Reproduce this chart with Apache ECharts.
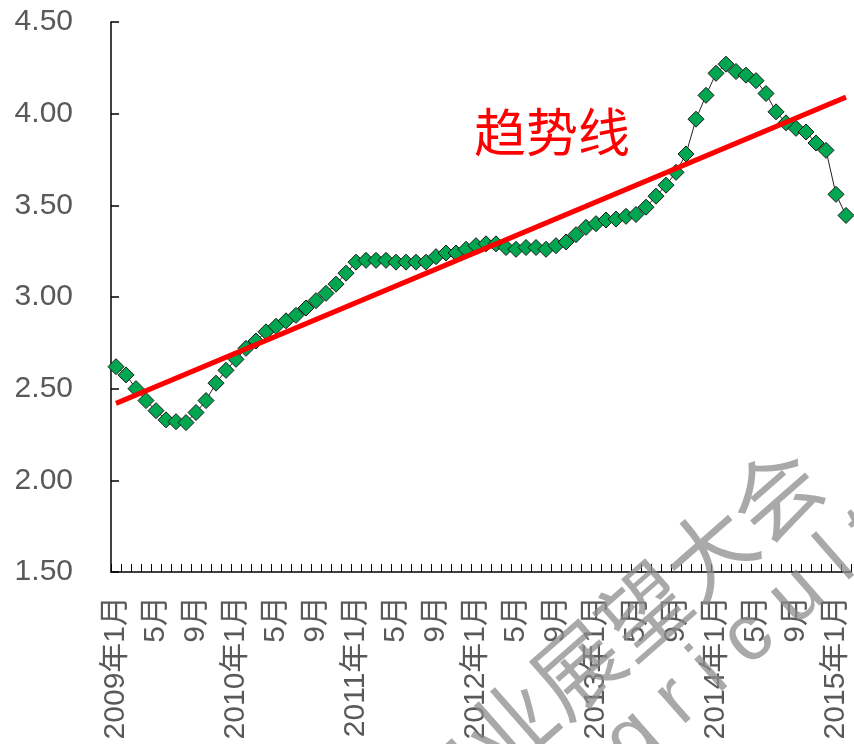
<!DOCTYPE html>
<html>
<head>
<meta charset="utf-8">
<script src="https://cdn.jsdelivr.net/npm/echarts@6/dist/echarts.min.js"></script>
<style>
  html, body { margin: 0; padding: 0; background: #fff; }
  #chart { width: 854px; height: 744px; }
</style>
</head>
<body>
<div id="chart"></div>
<script>
// 2009年1月 ~ 2015年2月，按月
const startYear = 2009
const monthCount = 74
const categories = []
for (let i = 0; i < monthCount; i++) {
  const y = startYear + Math.floor(i / 12)
  const m = (i % 12) + 1
  categories.push(m === 1 ? y + '年1月' : m + '月')
}

const values = [
  2.62, 2.575, 2.50, 2.435, 2.38, 2.33, 2.32, 2.315, 2.37, 2.435, 2.53, 2.60,
  2.66, 2.72, 2.76, 2.81, 2.84, 2.87, 2.90, 2.94, 2.98, 3.02, 3.07, 3.13,
  3.19, 3.20, 3.20, 3.20, 3.19, 3.19, 3.19, 3.19, 3.22, 3.24, 3.24, 3.26,
  3.28, 3.29, 3.29, 3.27, 3.26, 3.27, 3.27, 3.26, 3.28, 3.30, 3.34, 3.38,
  3.40, 3.42, 3.425, 3.44, 3.45, 3.49, 3.55, 3.61, 3.68, 3.78, 3.97, 4.10,
  4.22, 4.27, 4.23, 4.21, 4.18, 4.11, 4.01, 3.95, 3.92, 3.90, 3.84, 3.80,
  3.56, 3.445,
]

// 趋势线两端
const trendStart = 2.42
const trendEnd = 4.09

const yTicks = { min: 1.5, max: 4.5, interval: 0.5 }

const chart = echarts.init(document.getElementById('chart'))

const labelColor = '#595959'
const fontFamily = '"Liberation Sans", Arial, "Noto Sans CJK SC", sans-serif'

const option = {
  animation: false,
  backgroundColor: '#fff',
  grid: {
    left: 111,
    right: 3,
    top: 22,
    bottom: 172,
  },
  xAxis: {
    type: 'category',
    data: categories,
    boundaryGap: true,
    axisLine: { lineStyle: { color: '#000', width: 1.5 } },
    axisTick: {
      show: true,
      inside: true,
      length: 8,
      interval: 0,
      lineStyle: { color: '#000', width: 1 },
    },
    axisLabel: {
      interval: 3,
      rotate: 90,
      margin: 24,
      color: labelColor,
      fontSize: 30,
      fontFamily,
    },
    splitLine: { show: false },
  },
  yAxis: {
    type: 'value',
    min: yTicks.min,
    max: yTicks.max,
    interval: yTicks.interval,
    axisLine: { show: true, lineStyle: { color: '#000', width: 1.5 } },
    axisTick: {
      show: true,
      inside: true,
      length: 8,
      lineStyle: { color: '#000', width: 1.5 },
    },
    axisLabel: {
      margin: 38,
      color: labelColor,
      fontSize: 30,
      fontFamily,
      formatter: (v) => v.toFixed(2),
    },
    splitLine: { show: false },
  },
  series: [
    {
      type: 'line',
      data: values,
      symbol: 'diamond',
      symbolSize: 16,
      showAllSymbol: true,
      lineStyle: { color: '#222', width: 1 },
      itemStyle: {
        color: '#00A650',
        borderColor: '#1a1a1a',
        borderWidth: 1,
      },
      z: 3,
    },
    {
      type: 'line',
      data: [
        [0, trendStart],
        [monthCount - 1, trendEnd],
      ],
      symbol: 'none',
      lineStyle: { color: '#FF0000', width: 5 },
      z: 4,
    },
  ],
  graphic: [
    {
      type: 'text',
      left: 474,
      top: 106,
      style: {
        text: '趋势线',
        fill: '#FF0000',
        fontSize: 52,
        fontFamily: '"Noto Sans CJK SC", sans-serif',
      },
      z: 10,
    },
    {
      type: 'text',
      x: 382,
      y: 780,
      rotation: 0.72,
      style: {
        text: '农业展望大会',
        fill: 'rgba(140,140,140,0.75)',
        fontSize: 88,
        fontFamily: '"Noto Sans CJK SC", sans-serif',
      },
      z: 20,
    },
    {
      type: 'text',
      x: 540,
      y: 768,
      rotation: 0.72,
      style: {
        text: 'a g r i c u l t u r e',
        fill: 'rgba(140,140,140,0.75)',
        fontSize: 80,
        fontFamily: '"Liberation Sans", sans-serif',
      },
      z: 20,
    },
  ],
}

chart.setOption(option)
</script>
</body>
</html>
